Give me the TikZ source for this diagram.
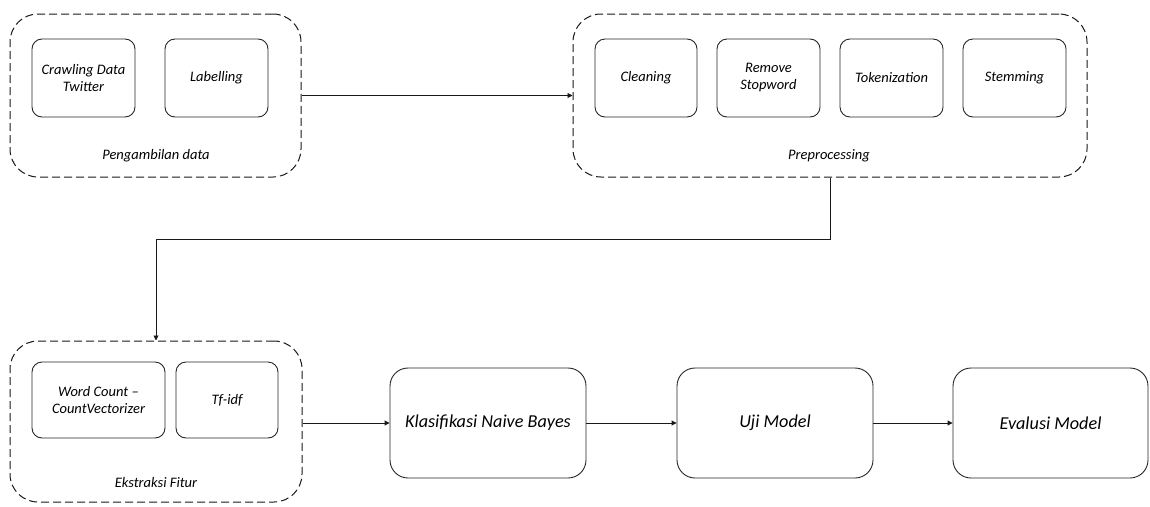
\documentclass[tikz,border=0pt]{standalone}
\usepackage{fontspec}
\setmainfont{Carlito}
\usetikzlibrary{arrows.meta}
\begin{document}
\begin{tikzpicture}[x=1pt,y=-1pt,
  group/.style={draw=black!90, line width=1pt, dash pattern=on 8pt off 4pt, rounded corners=28pt, minimum width=#1, minimum height=163pt, inner sep=0pt},
  small/.style={draw=black!85, line width=0.9pt, rounded corners=10pt, minimum width=#1, minimum height=78pt, inner sep=0pt, align=center, font=\fontsize{14.5}{17}\selectfont\itshape},
  big/.style={draw=black!85, line width=0.9pt, rounded corners=18pt, minimum width=196pt, minimum height=110pt, inner sep=0pt, align=center, font=\fontsize{18.2}{21}\selectfont\itshape},
  glabel/.style={font=\fontsize{14.5}{17}\selectfont\itshape, inner sep=0pt},
  conn/.style={draw=black!90, line width=0.9pt, -{Triangle[length=5pt,width=5pt]}}
]
\useasboundingbox (0,0) rectangle (1150,506);
% groups
\node[group=291pt] (g1) at (155.5,95.5) {};
\node[group=514pt] (g2) at (830,95.5) {};
\node[group=292pt, minimum height=161pt] (g3) at (156,421.5) {};
% group 1 content
\node[small=103pt] (crawl) at (83.5,78) {Crawling Data\\Twitter};
\node[small=103pt] (label) at (216.5,78) {Labelling};
\node[glabel] (l1) at (156,156) {Pengambilan data};
% group 2 content
\node[small=102pt] (clean) at (646,78) {Cleaning};
\node[small=103pt] (stop) at (768.5,78) {Remove\\Stopword};
\node[small=103pt] (token) at (891.5,78) {Tokenization};
\node[small=103pt] (stem) at (1014.5,78) {Stemming};
\node[glabel] (l2) at (829,156) {Preprocessing};
% group 3 content
\node[small=133pt, minimum height=76pt] (wc) at (98.5,400) {Word Count --\\CountVectorizer};
\node[small=102pt, minimum height=76pt] (tfidf) at (227,400) {Tf-idf};
\node[glabel] (l3) at (156,483) {Ekstraksi Fitur};
% big boxes
\node[big] (klas) at (488,423) {Klasifikasi Naive Bayes};
\node[big] (uji) at (775,423) {Uji Model};
\node[big, minimum width=195pt] (eval) at (1050.5,423) {Evalusi Model};
% connectors
\draw[conn] (g1.east) -- (g2.west);
\draw[conn] (g2.south) -- ++(0,62) -| (g3.north);
\draw[conn] (g3.east |- klas.west) -- (klas.west);
\draw[conn] (klas.east) -- (uji.west);
\draw[conn] (uji.east) -- (eval.west);
\end{tikzpicture}
\end{document}
